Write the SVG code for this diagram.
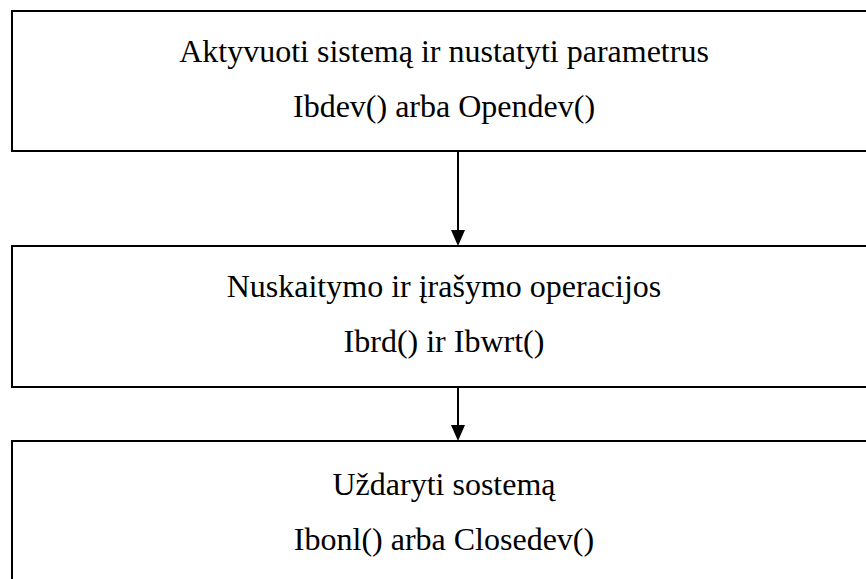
<svg xmlns="http://www.w3.org/2000/svg" width="866" height="579" viewBox="0 0 866 579">
<style>
.box{fill:#fff;stroke:#000;stroke-width:2}
.t{font-family:'Liberation Serif','DejaVu Serif',serif;font-size:32px;fill:#000;text-anchor:middle}
.c{stroke:#000;stroke-width:2;fill:none}
</style>
<g id="node1">
<rect class="box" x="12" y="11" width="880" height="140"/>
<text class="t" font-family="Liberation Serif" x="444" y="62">Aktyvuoti sistemą ir nustatyti parametrus</text>
<text class="t" font-family="Liberation Serif" x="444" y="117">Ibdev() arba Opendev()</text>
</g>
<g id="node2">
<rect class="box" x="12" y="246" width="880" height="141"/>
<text class="t" font-family="Liberation Serif" x="444" y="297">Nuskaitymo ir įrašymo operacijos</text>
<text class="t" font-family="Liberation Serif" x="444" y="352">Ibrd() ir Ibwrt()</text>
</g>
<g id="node3">
<rect class="box" x="12" y="441" width="880" height="200"/>
<text class="t" font-family="Liberation Serif" x="444" y="495">Uždaryti sostemą</text>
<text class="t" font-family="Liberation Serif" x="444" y="550">Ibonl() arba Closedev()</text>
</g>
<g id="connectors">
<line class="c" x1="458" y1="151" x2="458" y2="232"/>
<path d="M451,230 L465,230 L458,246 Z" fill="#000"/>
<line class="c" x1="458" y1="387" x2="458" y2="427"/>
<path d="M451,425 L465,425 L458,441 Z" fill="#000"/>
</g>
</svg>
